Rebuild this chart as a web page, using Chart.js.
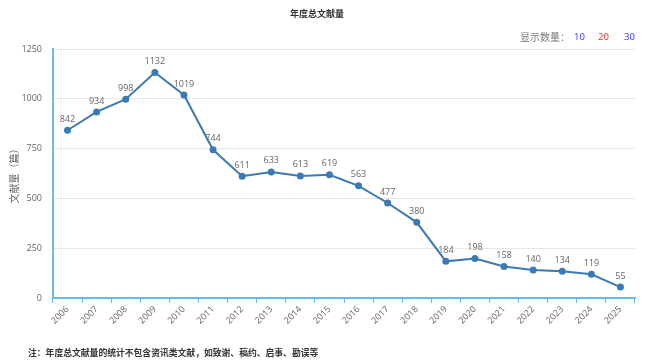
<!DOCTYPE html>
<html>
<head>
<meta charset="utf-8">
<script src="https://cdn.jsdelivr.net/npm/chart.js@4.4.0/dist/chart.umd.min.js"></script>
<style>
  html, body { margin: 0; padding: 0; background: #fff; }
  #wrap { position: relative; width: 650px; height: 364px; overflow: hidden; font-family: "Open Sans", "Noto Sans CJK SC", sans-serif; }
  #c { position: absolute; left: 0; top: 0; }
  .t { position: absolute; white-space: nowrap; line-height: 1; }
  #title { left: 0; width: 634px; top: 9px; text-align: center; font-weight: bold; font-size: 9px; color: #333; }
  #show { left: 520px; top: 32px; font-size: 10px; color: #777; }
  .n { top: 32px; font-size: 9.5px; }
  #note { left: 28px; top: 349px; font-size: 8.8px; font-weight: bold; color: #333; }
</style>
</head>
<body>
<div id="wrap">
  <canvas id="c" width="650" height="364"></canvas>
  <div class="t" id="title">年度总文献量</div>
  <div class="t" id="show">显示数量：</div>
  <div class="t n" style="left:574px;color:#3333ff">10</div>
  <div class="t n" style="left:598px;color:#ff2222">20</div>
  <div class="t n" style="left:624px;color:#3333ff">30</div>
  <div class="t" id="note">注：年度总文献量的统计不包含资讯类文献，如致谢、稿约、启事、勘误等</div>
</div>
<script>
const years = ["2006","2007","2008","2009","2010","2011","2012","2013","2014","2015","2016","2017","2018","2019","2020","2021","2022","2023","2024","2025"];
const counts = [842,934,998,1132,1019,744,611,633,613,619,563,477,380,184,198,158,140,134,119,55];
const yTicks = [0,250,500,750,1000,1250];

const labelPlugin = {
  id: 'pointLabels',
  afterDatasetsDraw(chart) {
    const ctx = chart.ctx;
    const meta = chart.getDatasetMeta(0);
    ctx.save();
    ctx.font = '9px "Open Sans", sans-serif';
    ctx.fillStyle = '#666';
    ctx.textAlign = 'center';
    ctx.textBaseline = 'middle';
    meta.data.forEach((pt, i) => {
      ctx.fillText(String(counts[i]), pt.x, pt.y - 11);
    });
    ctx.restore();
  }
};

new Chart(document.getElementById('c'), {
  type: 'line',
  data: {
    labels: years,
    datasets: [{
      data: counts,
      borderColor: '#3b7ab5',
      backgroundColor: '#3b7ab5',
      borderWidth: 2,
      pointRadius: 3.5,
      pointBackgroundColor: '#3b7ab5',
      pointBorderWidth: 0,
      tension: 0,
      fill: false
    }]
  },
  options: {
    responsive: false,
    animation: false,
    layout: { padding: { top: 49, right: 15, left: 0, bottom: 0 } },
    plugins: { legend: { display: false }, tooltip: { enabled: false }, title: { display: false } },
    scales: {
      x: {
        offset: true,
        grid: { display: true, offset: true, drawOnChartArea: false, drawTicks: true, tickLength: 5, color: '#6cbbe3', lineWidth: 1 },
        border: { display: true, color: '#6cbbe3', width: 2 },
        ticks: { color: '#666', font: { size: 9, family: '"Open Sans", sans-serif' }, minRotation: 45, maxRotation: 45, padding: 1, autoSkip: false },
        afterFit(s) { s.height = 66; }
      },
      y: {
        min: 0, max: 1250,
        afterBuildTicks(s) { s.ticks = yTicks.map(v => ({ value: v })); },
        grid: { color: '#e6e6e6', drawTicks: false, lineWidth: 1 },
        border: { display: true, color: '#6cbbe3', width: 2 },
        ticks: { color: '#666', font: { size: 9, family: '"Open Sans", sans-serif' }, padding: 11, callback: v => String(v) },
        title: { display: true, text: '文献量（篇）', color: '#666', font: { size: 10, family: '"Noto Sans CJK SC", sans-serif' }, padding: { top: 8, bottom: 0 } },
        afterFit(s) { s.width = 53; }
      }
    }
  },
  plugins: [labelPlugin]
});
</script>
</body>
</html>
